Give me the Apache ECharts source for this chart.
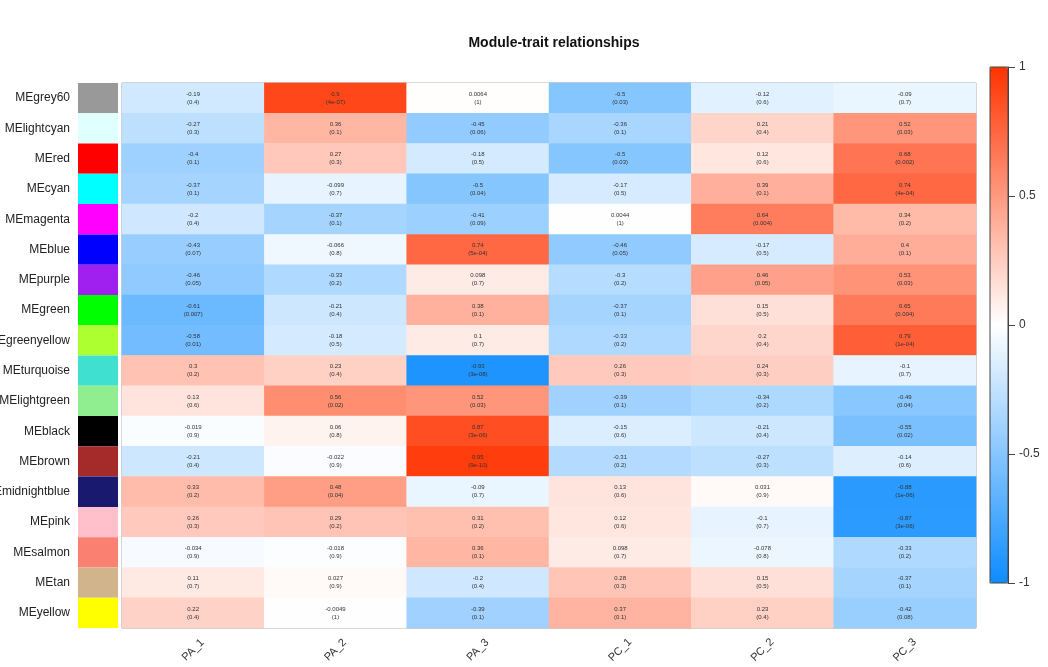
<!DOCTYPE html>
<html>
<head>
<meta charset="utf-8">
<title>Module-trait relationships</title>
<script src="https://cdn.jsdelivr.net/npm/echarts@6/dist/echarts.min.js"></script>
<style>
  html, body { margin: 0; padding: 0; background: #fff; }
  #chart { width: 1048px; height: 667px; }
</style>
</head>
<body>
<div id="chart"></div>
<script>
// Module eigengene vs trait correlations (WGCNA style heatmap)

const modules = [
  "MEgrey60", "MElightcyan", "MEred", "MEcyan", "MEmagenta", "MEblue",
  "MEpurple", "MEgreen", "MEgreenyellow", "MEturquoise", "MElightgreen",
  "MEblack", "MEbrown", "MEmidnightblue", "MEpink", "MEsalmon", "MEtan", "MEyellow",
];

const moduleColors = [
  "#999999", "#e0ffff", "#ff0000", "#00ffff", "#ff00ff", "#0000ff",
  "#a020f0", "#00ff00", "#adff2f", "#40e0d0", "#90ee90",
  "#000000", "#a52a2a", "#191970", "#ffc0cb", "#fa8072", "#d2b48c", "#ffff00",
];

const traits = ["PA_1", "PA_2", "PA_3", "PC_1", "PC_2", "PC_3"];

// one row per module, columns in trait order
const corr = [
  [-0.19, 0.9, 0.0064, -0.5, -0.12, -0.09],
  [-0.27, 0.36, -0.45, -0.36, 0.21, 0.52],
  [-0.4, 0.27, -0.18, -0.5, 0.12, 0.68],
  [-0.37, -0.099, -0.5, -0.17, 0.39, 0.74],
  [-0.2, -0.37, -0.41, 0.0044, 0.64, 0.34],
  [-0.43, -0.066, 0.74, -0.46, -0.17, 0.4],
  [-0.46, -0.33, 0.098, -0.3, 0.46, 0.53],
  [-0.61, -0.21, 0.38, -0.37, 0.15, 0.65],
  [-0.58, -0.18, 0.1, -0.33, 0.2, 0.79],
  [0.3, 0.23, -0.93, 0.26, 0.24, -0.1],
  [0.13, 0.56, 0.52, -0.39, -0.34, -0.49],
  [-0.019, 0.06, 0.87, -0.15, -0.21, -0.55],
  [-0.21, -0.022, 0.95, -0.31, -0.27, -0.14],
  [0.33, 0.48, -0.09, 0.13, 0.031, -0.88],
  [0.26, 0.29, 0.31, 0.12, -0.1, -0.87],
  [-0.034, -0.018, 0.36, 0.098, -0.078, -0.33],
  [0.11, 0.027, -0.2, 0.28, 0.15, -0.37],
  [0.22, -0.0049, -0.39, 0.37, 0.23, -0.42],
];

const pvals = [
  ["0.4", "4e-07", "1", "0.03", "0.6", "0.7"],
  ["0.3", "0.1", "0.06", "0.1", "0.4", "0.03"],
  ["0.1", "0.3", "0.5", "0.03", "0.6", "0.002"],
  ["0.1", "0.7", "0.04", "0.5", "0.1", "4e-04"],
  ["0.4", "0.1", "0.09", "1", "0.004", "0.2"],
  ["0.07", "0.8", "5e-04", "0.05", "0.5", "0.1"],
  ["0.05", "0.2", "0.7", "0.2", "0.05", "0.03"],
  ["0.007", "0.4", "0.1", "0.1", "0.5", "0.004"],
  ["0.01", "0.5", "0.7", "0.2", "0.4", "1e-04"],
  ["0.2", "0.4", "3e-08", "0.3", "0.3", "0.7"],
  ["0.6", "0.02", "0.03", "0.1", "0.2", "0.04"],
  ["0.9", "0.8", "3e-06", "0.6", "0.4", "0.02"],
  ["0.4", "0.9", "9e-10", "0.2", "0.3", "0.6"],
  ["0.2", "0.04", "0.7", "0.6", "0.9", "1e-06"],
  ["0.3", "0.2", "0.2", "0.6", "0.7", "3e-06"],
  ["0.9", "0.9", "0.1", "0.7", "0.8", "0.2"],
  ["0.7", "0.9", "0.4", "0.3", "0.5", "0.1"],
  ["0.4", "1", "0.1", "0.1", "0.4", "0.08"],
];

const chart = echarts.init(document.getElementById("chart"));

const cells = [];
corr.forEach((row, i) => row.forEach((v, j) => cells.push([j, i, v])));

const FONT = "'Liberation Sans', Arial, sans-serif";

chart.setOption({
  backgroundColor: "#ffffff",
  animation: false,
  textStyle: { fontFamily: FONT },
  title: {
    text: "Module-trait relationships",
    left: 549,
    top: 31,
    textAlign: "center",
    textStyle: { fontSize: 14, fontWeight: "bold", color: "#111", fontFamily: FONT },
  },
  grid: [
    {
      left: 122, top: 83, width: 854, height: 545, outerBoundsMode: "none",
      show: true, borderColor: "#9a9a9a", borderWidth: 1,
    },
    { left: 78, top: 83, width: 40, height: 545, outerBoundsMode: "none" },
    {
      left: 990, top: 67, width: 18, height: 516, outerBoundsMode: "none",
      show: true, z: 10, backgroundColor: "transparent", borderColor: "#444", borderWidth: 1,
    },
  ],
  xAxis: [
    {
      gridIndex: 0,
      type: "category",
      data: traits,
      axisLine: { show: false },
      axisTick: { show: false },
      axisLabel: {
        rotate: 45,
        align: "center",
        verticalAlign: "middle",
        margin: 22,
        fontSize: 11,
        color: "#333",
        fontFamily: FONT,
      },
    },
    { gridIndex: 1, type: "value", min: 0, max: 1, show: false },
    { gridIndex: 2, type: "value", min: 0, max: 1, show: false },
  ],
  yAxis: [
    { gridIndex: 0, type: "category", data: modules, inverse: true, show: false },
    {
      gridIndex: 1,
      type: "category",
      data: modules,
      inverse: true,
      axisLine: { show: false },
      axisTick: { show: false },
      axisLabel: { fontSize: 12, color: "#222", margin: 8, fontFamily: FONT },
    },
    {
      gridIndex: 2,
      type: "value",
      min: -1,
      max: 1,
      interval: 0.5,
      position: "right",
      z: 10,
      axisLine: { show: true, onZero: false, lineStyle: { color: "#444" } },
      axisTick: { show: true, inside: false, length: 7, lineStyle: { color: "#444" } },
      axisLabel: { fontSize: 12, color: "#333", margin: 11, fontFamily: FONT },
      splitLine: { show: false },
    },
  ],
  visualMap: {
    type: "continuous",
    seriesIndex: 0,
    min: -1,
    max: 1,
    calculable: false,
    hoverLink: false,
    left: 990,
    top: 67,
    padding: 0,
    itemWidth: 18,
    itemHeight: 516,
    inRange: { color: ["#0d8cff", "#ffffff", "#ff3300"] },
  },
  series: [
    {
      type: "heatmap",
      xAxisIndex: 0,
      yAxisIndex: 0,
      data: cells,
      silent: true,
      label: {
        show: true,
        fontSize: 6,
        lineHeight: 8,
        color: "#333",
        fontFamily: FONT,
        formatter: (p) => `${p.value[2]}\n(${pvals[p.value[1]][p.value[0]]})`,
      },
    },
    {
      type: "bar",
      xAxisIndex: 1,
      yAxisIndex: 1,
      silent: true,
      barWidth: "100%",
      data: moduleColors.map((c) => ({ value: 1, itemStyle: { color: c } })),
    },
  ],
});

window.addEventListener("resize", () => chart.resize());
</script>
</body>
</html>
